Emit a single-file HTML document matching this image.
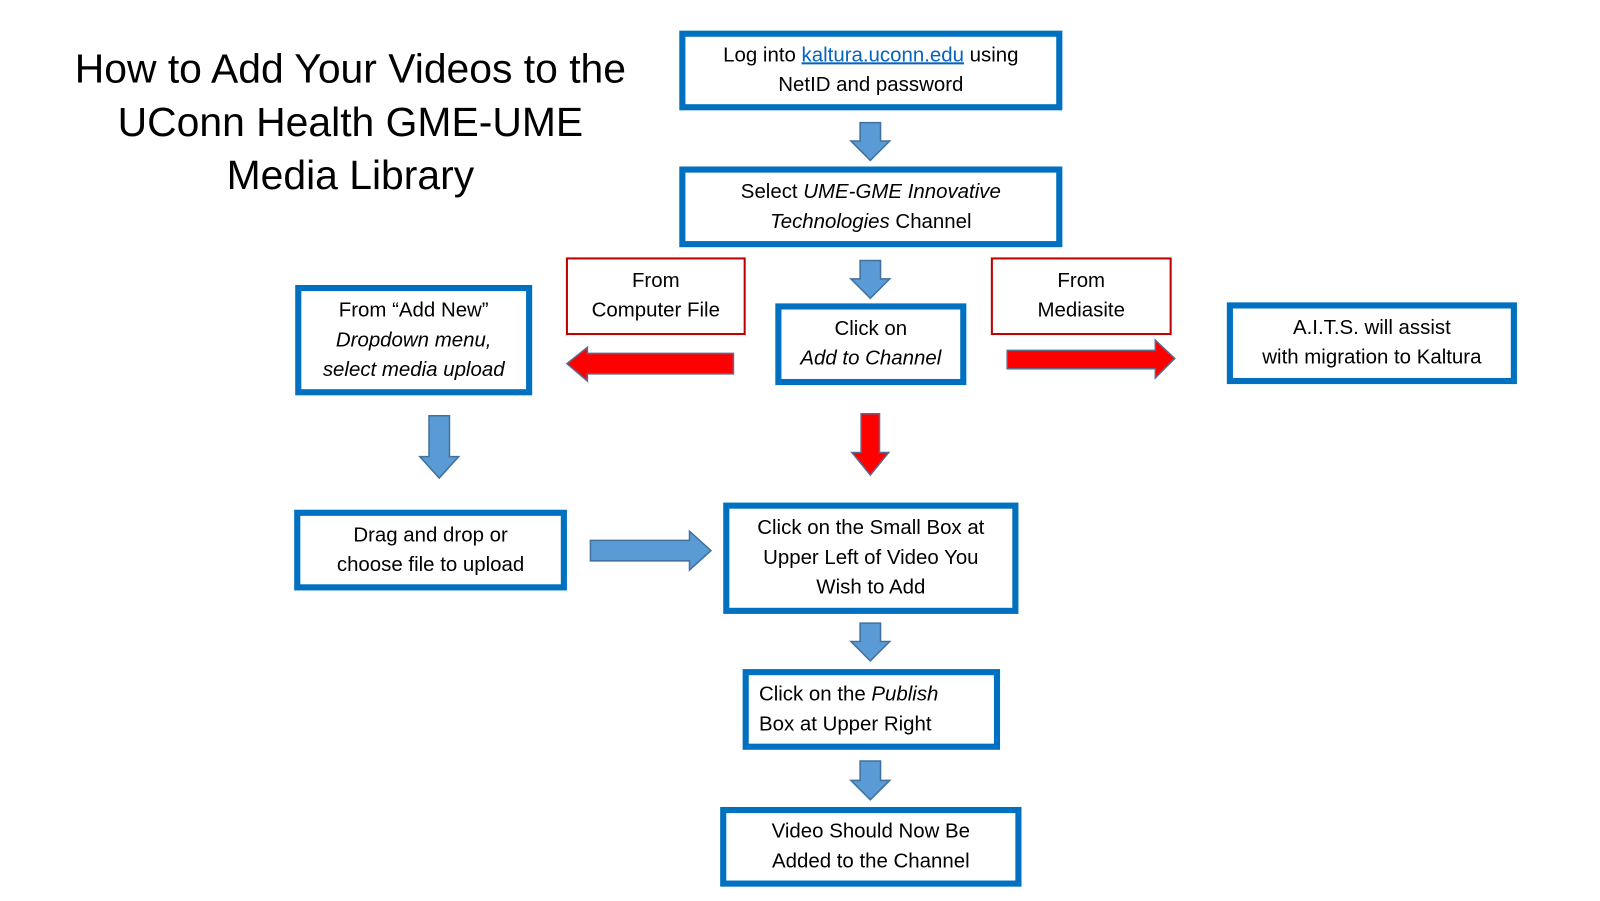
<!DOCTYPE html>
<html><head><style>
body{margin:0;width:1600px;height:900px;background:#fff;position:relative;font-family:"Liberation Sans","DejaVu Sans",sans-serif;overflow:hidden}
#w{position:absolute;left:0;top:0;width:1570px;height:882px;transform:scale(1.0215);transform-origin:0 0}
.b{position:absolute;box-sizing:border-box;border:6px solid #0070c0;display:flex;align-items:center;justify-content:center;text-align:center;font-size:20px;line-height:29px;color:#000}
.r{position:absolute;box-sizing:border-box;border:2px solid #c00000;display:flex;align-items:center;justify-content:center;text-align:center;font-size:20px;line-height:29px}
.t{position:absolute;left:38px;top:42px;width:610px;text-align:center;font-size:40px;line-height:52px}
svg{position:absolute;left:0;top:0}
a{color:#0563c1;text-decoration:underline}
</style></head><body><div id="w">
<div class="t">How to Add Your Videos to the<br>UConn Health GME-UME<br>Media Library</div>
<div class="b" style="left:665px;top:30px;width:375px;height:78px"><span>Log into <a>kaltura.uconn.edu</a> using<br>NetID and password</span></div>
<div class="b" style="left:665px;top:163px;width:375px;height:79px"><span>Select <i>UME-GME Innovative</i><br><i>Technologies</i> Channel</span></div>
<div class="b" style="left:759px;top:297px;width:187px;height:80px"><span>Click on<br><i>Add to Channel</i></span></div>
<div class="b" style="left:289px;top:279px;width:232px;height:108px"><span>From “Add New”<br><i>Dropdown menu,<br>select media upload</i></span></div>
<div class="b" style="left:1201px;top:296px;width:284px;height:80px"><span>A.I.T.S. will assist<br>with migration to Kaltura</span></div>
<div class="b" style="left:288px;top:499px;width:267px;height:79px"><span>Drag and drop or<br>choose file to upload</span></div>
<div class="b" style="left:708px;top:492px;width:289px;height:109px"><span>Click on the Small Box at<br>Upper Left of Video You<br>Wish to Add</span></div>
<div class="b" style="left:727px;top:655px;width:252px;height:79px;justify-content:flex-start;text-align:left;padding-left:10px"><span>Click on the <i>Publish</i><br>Box at Upper Right</span></div>
<div class="b" style="left:705px;top:790px;width:295px;height:78px"><span>Video Should Now Be<br>Added to the Channel</span></div>
<div class="r" style="left:554px;top:252px;width:176px;height:76px"><span>From<br>Computer File</span></div>
<div class="r" style="left:970px;top:252px;width:177px;height:76px"><span>From<br>Mediasite</span></div>
<svg width="1570" height="882">
<g fill="#5b9bd5" stroke="#41719c" stroke-width="1.5">
<polygon points="842,120 862,120 862,138 871,138 852,157 833,138 842,138"/>
<polygon points="842,255 862,255 862,273 871,273 852,292 833,273 842,273"/>
<polygon points="842,610 862,610 862,628 871,628 852,647 833,628 842,628"/>
<polygon points="842,745 862,745 862,764 871,764 852,783 833,764 842,764"/>
<polygon points="420,407 440,407 440,447 449,447 430,468 411,447 420,447"/>
<polygon points="578,529 675,529 675,520 696,539 675,558 675,549 578,549"/>
</g>
<g fill="#ff0000" stroke="#5a6a8c" stroke-width="1.5">
<polygon points="718,346 718,366 575,366 575,373 555,356 575,340 575,346"/>
<polygon points="986,343 986,361 1131,361 1131,370 1150,351 1131,333 1131,343"/>
<polygon points="843,405 861,405 861,443 870,443 852,465 834,443 843,443"/>
</g>
</svg>
</div></body></html>
